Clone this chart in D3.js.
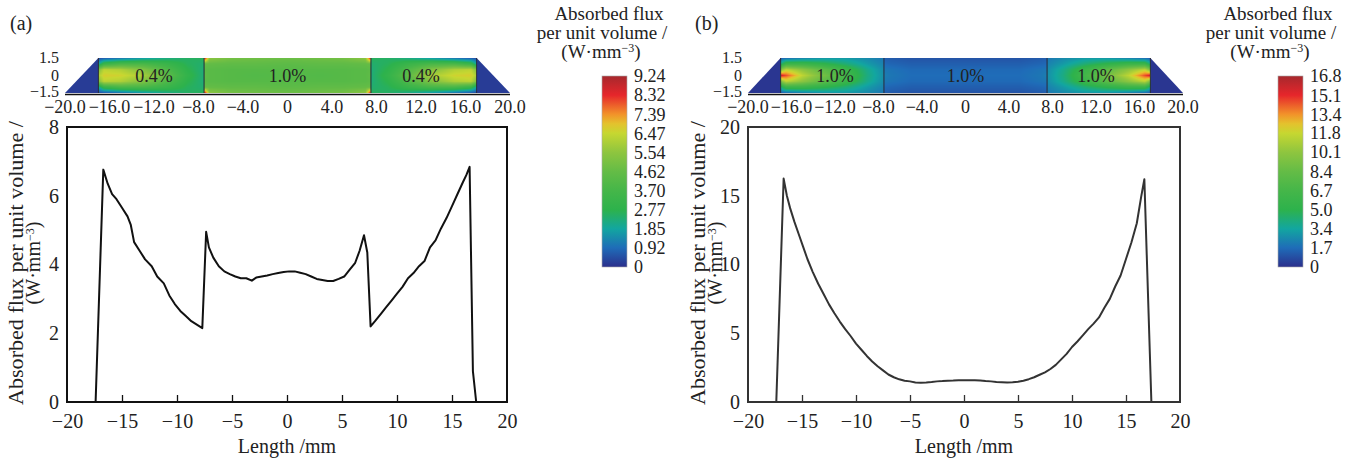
<!DOCTYPE html>
<html>
<head>
<meta charset="utf-8">
<title>Absorbed flux per unit volume</title>
<script src="https://cdn.jsdelivr.net/npm/d3@7"></script>
<style>
  body { margin: 0; background: #fff; }
  svg text { font-family: "Liberation Serif", "Times New Roman", "DejaVu Serif", serif; fill: #222; }
</style>
</head>
<body>
<svg id="chart" width="1357" height="461"></svg>
<script>
// ---- axis ticks / labels ----
const lengthTicks = [-20, -15, -10, -5, 0, 5, 10, 15, 20];
const fluxTicksA = [0, 2, 4, 6, 8];
const fluxTicksB = [0, 5, 10, 15, 20];
const heatTicks = [-20, -16, -12, -8, -4, 0, 4, 8, 12, 16, 20];
const heatTickLabels = ["\u221220.0", "\u221216.0", "\u221212.0", "\u22128.0", "\u22124.0", "0", "4.0", "8.0", "12.0", "16.0", "20.0"];
const heatYTicks = [1.5, 0, -1.5];
const heatYLabels = ["1.5", "0", "\u22121.5"];
const cbarLabelsA = ["9.24", "8.32", "7.39", "6.47", "5.54", "4.62", "3.70", "2.77", "1.85", "0.92", "0"];
const cbarLabelsB = ["16.8", "15.1", "13.4", "11.8", "10.1", "8.4", "6.7", "5.0", "3.4", "1.7", "0"];

// ---- line profiles along the rod axis: [length mm, flux W/mm^3] ----
const profileA = [
  [-17.4, 0], [-16.7, 6.76], [-16.3, 6.35], [-15.9, 6.05], [-15.5, 5.9], [-15.0, 5.65], [-14.5, 5.4],
  [-14.2, 5.15], [-13.9, 4.65], [-13.4, 4.4], [-12.9, 4.15], [-12.3, 3.95], [-11.8, 3.65], [-11.2, 3.45],
  [-10.7, 3.1], [-10.2, 2.85], [-9.7, 2.65], [-9.2, 2.5], [-8.7, 2.35], [-8.2, 2.25], [-7.7, 2.15],
  [-7.35, 4.95], [-7.1, 4.5], [-6.7, 4.2], [-6.2, 3.95], [-5.7, 3.8], [-5.2, 3.72], [-4.7, 3.65],
  [-4.2, 3.6], [-3.7, 3.6], [-3.2, 3.53], [-2.8, 3.62], [-2.3, 3.65], [-1.8, 3.68], [-1.3, 3.72],
  [-0.8, 3.75], [-0.3, 3.78], [0.2, 3.8], [0.7, 3.8], [1.2, 3.76], [1.7, 3.72], [2.2, 3.65], [2.7, 3.58],
  [3.2, 3.55], [3.7, 3.52], [4.2, 3.52], [4.7, 3.58], [5.2, 3.65], [5.7, 3.85], [6.2, 4.05], [6.6, 4.4],
  [7.0, 4.85], [7.3, 4.35], [7.6, 2.2], [8.0, 2.35], [8.5, 2.55], [9.0, 2.75], [9.5, 2.95], [10.0, 3.15],
  [10.5, 3.35], [11.0, 3.6], [11.5, 3.75], [12.0, 3.95], [12.5, 4.1], [13.0, 4.5], [13.5, 4.7], [14.0, 5.05],
  [14.5, 5.35], [15.0, 5.7], [15.5, 6.05], [16.0, 6.4], [16.3, 6.6], [16.6, 6.84], [16.9, 0.9], [17.2, 0]
];
const profileB = [
  [-17.38, 0], [-16.7, 16.25], [-16.4, 15.0], [-16.1, 14.1], [-15.7, 13.1], [-15.3, 12.2], [-14.9, 11.3],
  [-14.5, 10.4], [-14.0, 9.45], [-13.5, 8.6], [-13.0, 7.85], [-12.5, 7.1], [-12.0, 6.45], [-11.5, 5.85],
  [-11.0, 5.3], [-10.5, 4.8], [-10.0, 4.25], [-9.5, 3.8], [-9.0, 3.35], [-8.5, 2.95], [-8.0, 2.6],
  [-7.5, 2.3], [-7.0, 2.0], [-6.5, 1.8], [-6.0, 1.65], [-5.5, 1.55], [-5.0, 1.5], [-4.5, 1.42], [-4.0, 1.4],
  [-3.5, 1.42], [-3.0, 1.45], [-2.5, 1.5], [-2.0, 1.52], [-1.5, 1.55], [-1.0, 1.56], [-0.5, 1.58], [0, 1.58],
  [0.5, 1.58], [1.0, 1.58], [1.5, 1.56], [2.0, 1.52], [2.5, 1.5], [3.0, 1.46], [3.5, 1.44], [4.0, 1.42],
  [4.5, 1.43], [5.0, 1.47], [5.5, 1.55], [6.0, 1.66], [6.5, 1.8], [7.0, 1.98], [7.5, 2.15], [8.0, 2.4],
  [8.5, 2.7], [9.0, 3.1], [9.5, 3.5], [10.0, 4.0], [10.5, 4.4], [11.0, 4.85], [11.5, 5.3], [12.0, 5.7],
  [12.5, 6.15], [13.0, 6.85], [13.5, 7.5], [14.0, 8.4], [14.5, 9.2], [15.0, 10.4], [15.5, 11.6], [16.0, 13.0],
  [16.4, 14.9], [16.7, 16.2], [17.35, 0]
];

// ---- cross-section maps (upper half of the rod, lower half is the mirror image) ----
const segmentEdges = [-17, -7.5, 7.5, 17];
const segmentMid = [-12, 0, 12];
const dopingA = ["0.4%", "1.0%", "0.4%"];
const dopingB = ["1.0%", "1.0%", "1.0%"];
const crystalShape = [[-20, -1.5], [-17, 1.5], [17, 1.5], [20, -1.5]];
const gridX = [-20, -17.05, -17, -16.5, -15, -13, -11, -9, -7.55, -7.45, -7, -5, -3, 0,
               3, 5, 7, 7.45, 7.55, 9, 11, 13, 15, 16.5, 17, 17.05, 20];
const gridY = [1.5, 1.0, 0.5, 0];
const fieldA = [
  [0.2, 0.2, 0.4, 0.6, 1.0, 1.6, 2.1, 2.5, 2.6, 8.8, 5.5, 5.0, 4.9, 4.8, 4.9, 5.0, 5.5, 8.6, 2.6, 2.5, 2.1, 1.6, 1.0, 0.6, 0.4, 0.2, 0.2],
  [0.2, 0.2, 1.8, 3.2, 3.8, 3.8, 3.3, 2.6, 2.4, 4.7, 4.6, 4.5, 4.5, 4.4, 4.5, 4.5, 4.6, 4.7, 2.4, 2.6, 3.3, 3.8, 3.8, 3.2, 1.8, 0.2, 0.2],
  [0.2, 0.2, 5.2, 6.3, 6.1, 5.3, 4.1, 2.8, 2.3, 4.4, 4.3, 4.2, 4.2, 4.2, 4.2, 4.2, 4.3, 4.4, 2.3, 2.8, 4.1, 5.3, 6.1, 6.3, 5.2, 0.2, 0.2],
  [0.2, 0.2, 6.0, 6.7, 6.6, 6.0, 4.6, 3.0, 2.3, 4.5, 4.3, 4.2, 4.1, 4.2, 4.1, 4.2, 4.3, 4.5, 2.3, 3.0, 4.6, 6.0, 6.6, 6.7, 6.0, 0.2, 0.2]
];
const fieldB = [
  [0.2, 0.2, 1.2, 1.6, 2.2, 2.8, 2.9, 2.5, 2.0, 1.3, 1.2, 1.0, 1.0, 1.0, 1.0, 1.0, 1.2, 1.3, 2.0, 2.5, 2.9, 2.8, 2.2, 1.6, 1.2, 0.2, 0.2],
  [0.2, 0.2, 4.0, 6.0, 6.0, 5.2, 4.2, 3.0, 2.3, 1.6, 1.5, 1.3, 1.3, 1.3, 1.3, 1.3, 1.5, 1.6, 2.3, 3.0, 4.2, 5.2, 6.0, 6.0, 4.0, 0.2, 0.2],
  [0.2, 0.2, 9.5, 11.5, 10.0, 8.0, 6.0, 3.8, 2.6, 2.0, 1.9, 1.6, 1.6, 1.6, 1.6, 1.6, 1.9, 2.0, 2.6, 3.8, 6.0, 8.0, 10.0, 11.5, 9.5, 0.2, 0.2],
  [0.2, 0.2, 15.5, 14.5, 11.5, 9.0, 6.6, 4.0, 2.7, 2.2, 2.0, 1.7, 1.7, 1.7, 1.7, 1.7, 2.0, 2.2, 2.7, 4.0, 6.6, 9.0, 11.5, 14.5, 15.5, 0.2, 0.2]
];

// rainbow colour table (fraction of colour bar max)
const colorStops = [0, 0.1, 0.2, 0.3, 0.4, 0.5, 0.6, 0.7, 0.75, 0.8, 0.9, 1];
const colorRamp = ["#2b2f8c", "#1f6cb8", "#12a6a0", "#2db24c", "#45b649", "#64bc46", "#8ec53f",
                   "#c6d731", "#e4c22d", "#f2922a", "#e6262b", "#a6282d"];

const svg = d3.select("#chart");
const defs = svg.append("defs");

// layout of the two panels
const panels = [
  { tag: "(a)", profile: profileA, fluxTicks: fluxTicksA, field: fieldA, cbarLabels: cbarLabelsA, doping: dopingA,
    plotX: [67, 507], heatX: [65, 510], cbarX: 602, cbarTitleX: 605, tagX: 10, yTitleX: [23, 40], lineColor: "#111", frameColor: "#111" },
  { tag: "(b)", profile: profileB, fluxTicks: fluxTicksB, field: fieldB, cbarLabels: cbarLabelsB, doping: dopingB,
    plotX: [748, 1180], heatX: [748, 1183], cbarX: 1278, cbarTitleX: 1274, tagX: 695, yTitleX: [705, 722], lineColor: "#333", frameColor: "#333" }
];

const plotTop = 127, plotBottom = 402;
const heatTop = 58, heatBottom = 93;

// bilinear lookup in the (mirrored) grid
function fieldValue(rowsFull, ysFull, x, y) {
  let i = d3.bisectRight(gridX, x) - 1;
  i = Math.max(0, Math.min(gridX.length - 2, i));
  let j = 0;
  while (j < ysFull.length - 2 && y < ysFull[j + 1]) j++;
  const tx = Math.max(0, Math.min(1, (x - gridX[i]) / (gridX[i + 1] - gridX[i])));
  const ty = Math.max(0, Math.min(1, (ysFull[j] - y) / (ysFull[j] - ysFull[j + 1])));
  const a = rowsFull[j][i] * (1 - tx) + rowsFull[j][i + 1] * tx;
  const b = rowsFull[j + 1][i] * (1 - tx) + rowsFull[j + 1][i + 1] * tx;
  return a * (1 - ty) + b * ty;
}

function drawPanel(p, idx) {
  const g = svg.append("g");
  const x = d3.scaleLinear().domain([-20, 20]).range(p.plotX);
  const y = d3.scaleLinear().domain([0, d3.max(p.fluxTicks)]).range([plotBottom, plotTop]);
  const cbarMax = +p.cbarLabels[0];
  const color = d3.scaleLinear().domain(colorStops.map(s => s * cbarMax)).range(colorRamp).clamp(true);

  // panel tag
  g.append("text").attr("x", p.tagX).attr("y", 30).attr("font-size", 20).text(p.tag);

  // ---- line plot ----
  const xAxis = g.append("g").attr("transform", `translate(0,${plotBottom})`)
    .call(d3.axisBottom(x).tickValues(lengthTicks).tickSize(-7).tickPadding(12).tickFormat(d3.format("d")));
  xAxis.attr("font-family", null);
  xAxis.select(".domain").remove();
  xAxis.selectAll(".tick line").attr("stroke", p.frameColor).attr("stroke-width", 1.3)
    .filter(d => d === -20 || d === 20).remove();
  xAxis.selectAll("text").attr("font-size", 20).attr("fill", "#222");

  const yAxis = g.append("g").attr("transform", `translate(${p.plotX[0]},0)`)
    .call(d3.axisLeft(y).tickValues(p.fluxTicks).tickSize(0).tickPadding(8).tickFormat(d3.format("d")));
  yAxis.attr("font-family", null);
  yAxis.select(".domain").remove();
  yAxis.selectAll("text").attr("font-size", 20).attr("fill", "#222");

  g.append("path").datum(p.profile)
    .attr("fill", "none").attr("stroke", p.lineColor).attr("stroke-width", 2).attr("stroke-linejoin", "round")
    .attr("d", d3.line().x(d => x(d[0])).y(d => y(d[1])));

  g.append("rect").attr("x", p.plotX[0]).attr("y", plotTop)
    .attr("width", p.plotX[1] - p.plotX[0]).attr("height", plotBottom - plotTop)
    .attr("fill", "none").attr("stroke", p.frameColor).attr("stroke-width", 2);

  g.append("text").attr("x", (p.plotX[0] + p.plotX[1]) / 2).attr("y", 453)
    .attr("text-anchor", "middle").attr("font-size", 20).text("Length /mm");

  // rotated y title, two lines
  const midY = 263;
  g.append("text").attr("transform", `translate(${p.yTitleX[0]},${midY}) rotate(-90)`)
    .attr("text-anchor", "middle").attr("font-size", 20)
    .attr("textLength", 284).attr("lengthAdjust", "spacingAndGlyphs")
    .text("Absorbed flux per unit volume /");
  const unit = g.append("text").attr("transform", `translate(${p.yTitleX[1]},${midY}) rotate(-90)`)
    .attr("text-anchor", "middle").attr("font-size", 20);
  unit.append("tspan").text("(W\u00b7mm");
  unit.append("tspan").attr("dy", -6).attr("font-size", 12).text("\u22123");
  unit.append("tspan").attr("dy", 6).text(")");

  // ---- cross-section heat map ----
  const hx = d3.scaleLinear().domain([-20, 20]).range(p.heatX);
  const hy = d3.scaleLinear().domain([-1.5, 1.5]).range([heatBottom, heatTop]);
  const rowsFull = p.field.concat(p.field.slice(0, 3).reverse());
  const ysFull = gridY.concat(gridY.slice(0, 3).reverse().map(v => -v));

  const W = Math.round(p.heatX[1] - p.heatX[0]), H = heatBottom - heatTop;
  const canvas = document.createElement("canvas");
  canvas.width = W; canvas.height = H;
  const ctx = canvas.getContext("2d");
  const img = ctx.createImageData(W, H);
  for (let j = 0; j < H; j++) {
    for (let i = 0; i < W; i++) {
      const v = fieldValue(rowsFull, ysFull, hx.invert(p.heatX[0] + i + 0.5), hy.invert(heatTop + j + 0.5));
      const c = d3.rgb(color(v));
      const k = (j * W + i) * 4;
      img.data[k] = c.r; img.data[k + 1] = c.g; img.data[k + 2] = c.b; img.data[k + 3] = 255;
    }
  }
  ctx.putImageData(img, 0, 0);

  defs.append("clipPath").attr("id", "rod" + idx)
    .append("polygon").attr("points", crystalShape.map(d => [hx(d[0]), hy(d[1])].join(",")).join(" "));

  g.append("image").attr("x", p.heatX[0]).attr("y", heatTop).attr("width", W).attr("height", H)
    .attr("preserveAspectRatio", "none").attr("href", canvas.toDataURL())
    .attr("clip-path", `url(#rod${idx})`);

  g.selectAll(".seg").data(segmentEdges).join("line")
    .attr("x1", d => hx(d)).attr("x2", d => hx(d)).attr("y1", hy(1.5)).attr("y2", hy(-1.5))
    .attr("stroke", "#2a2a3a").attr("stroke-width", 1);

  g.selectAll(".dop").data(p.doping).join("text")
    .attr("x", (d, i) => hx(segmentMid[i])).attr("y", hy(0) + 6)
    .attr("text-anchor", "middle").attr("font-size", 18).attr("fill", "#333").text(d => d);

  g.append("line").attr("x1", hx(-20)).attr("x2", hx(20)).attr("y1", heatBottom + 1.5).attr("y2", heatBottom + 1.5)
    .attr("stroke", "#111").attr("stroke-width", 1.5);

  g.selectAll(".hxl").data(heatTicks).join("text")
    .attr("x", d => hx(d)).attr("y", 113).attr("text-anchor", "middle").attr("font-size", 18)
    .text((d, i) => heatTickLabels[i]);

  // y labels sit a little closer together than the map edges, as in the source figure
  g.selectAll(".hyl").data(heatYTicks).join("text")
    .attr("x", p.heatX[0] - 6).attr("y", d => hy(d) + (d > 0 ? -1 : d < 0 ? -2 : 0)).attr("dy", "0.35em")
    .attr("text-anchor", "end").attr("font-size", 16)
    .text((d, i) => heatYLabels[i]);

  // ---- colour bar ----
  const gradId = "grad" + idx;
  const grad = defs.append("linearGradient").attr("id", gradId)
    .attr("x1", 0).attr("y1", 1).attr("x2", 0).attr("y2", 0);
  colorStops.forEach((s, i) => grad.append("stop").attr("offset", s).attr("stop-color", colorRamp[i]));

  const cy = d3.scaleLinear().domain([0, cbarMax]).range([267, 76]);
  const cbarW = 25;
  g.append("rect").attr("x", p.cbarX).attr("y", cy(cbarMax)).attr("width", cbarW)
    .attr("height", cy(0) - cy(cbarMax)).attr("fill", `url(#${gradId})`)
    .attr("stroke", "#aaa").attr("stroke-width", 0.6);

  g.selectAll(".cbl").data(p.cbarLabels).join("text")
    .attr("x", p.cbarX + cbarW + 7).attr("y", d => cy(+d)).attr("dy", "0.35em")
    .attr("font-size", 18).text(d => d);

  const t = g.append("g").attr("text-anchor", "middle").attr("font-size", 19);
  t.append("text").attr("x", p.cbarTitleX + 4).attr("y", 20).text("Absorbed flux");
  t.append("text").attr("x", p.cbarTitleX - 3).attr("y", 39).text("per unit volume /");
  const u2 = t.append("text").attr("x", p.cbarTitleX - 4).attr("y", 58);
  u2.append("tspan").text("(W\u00b7mm");
  u2.append("tspan").attr("dy", -6).attr("font-size", 12).text("\u22123");
  u2.append("tspan").attr("dy", 6).text(")");
}

panels.forEach(drawPanel);
</script>
</body>
</html>
